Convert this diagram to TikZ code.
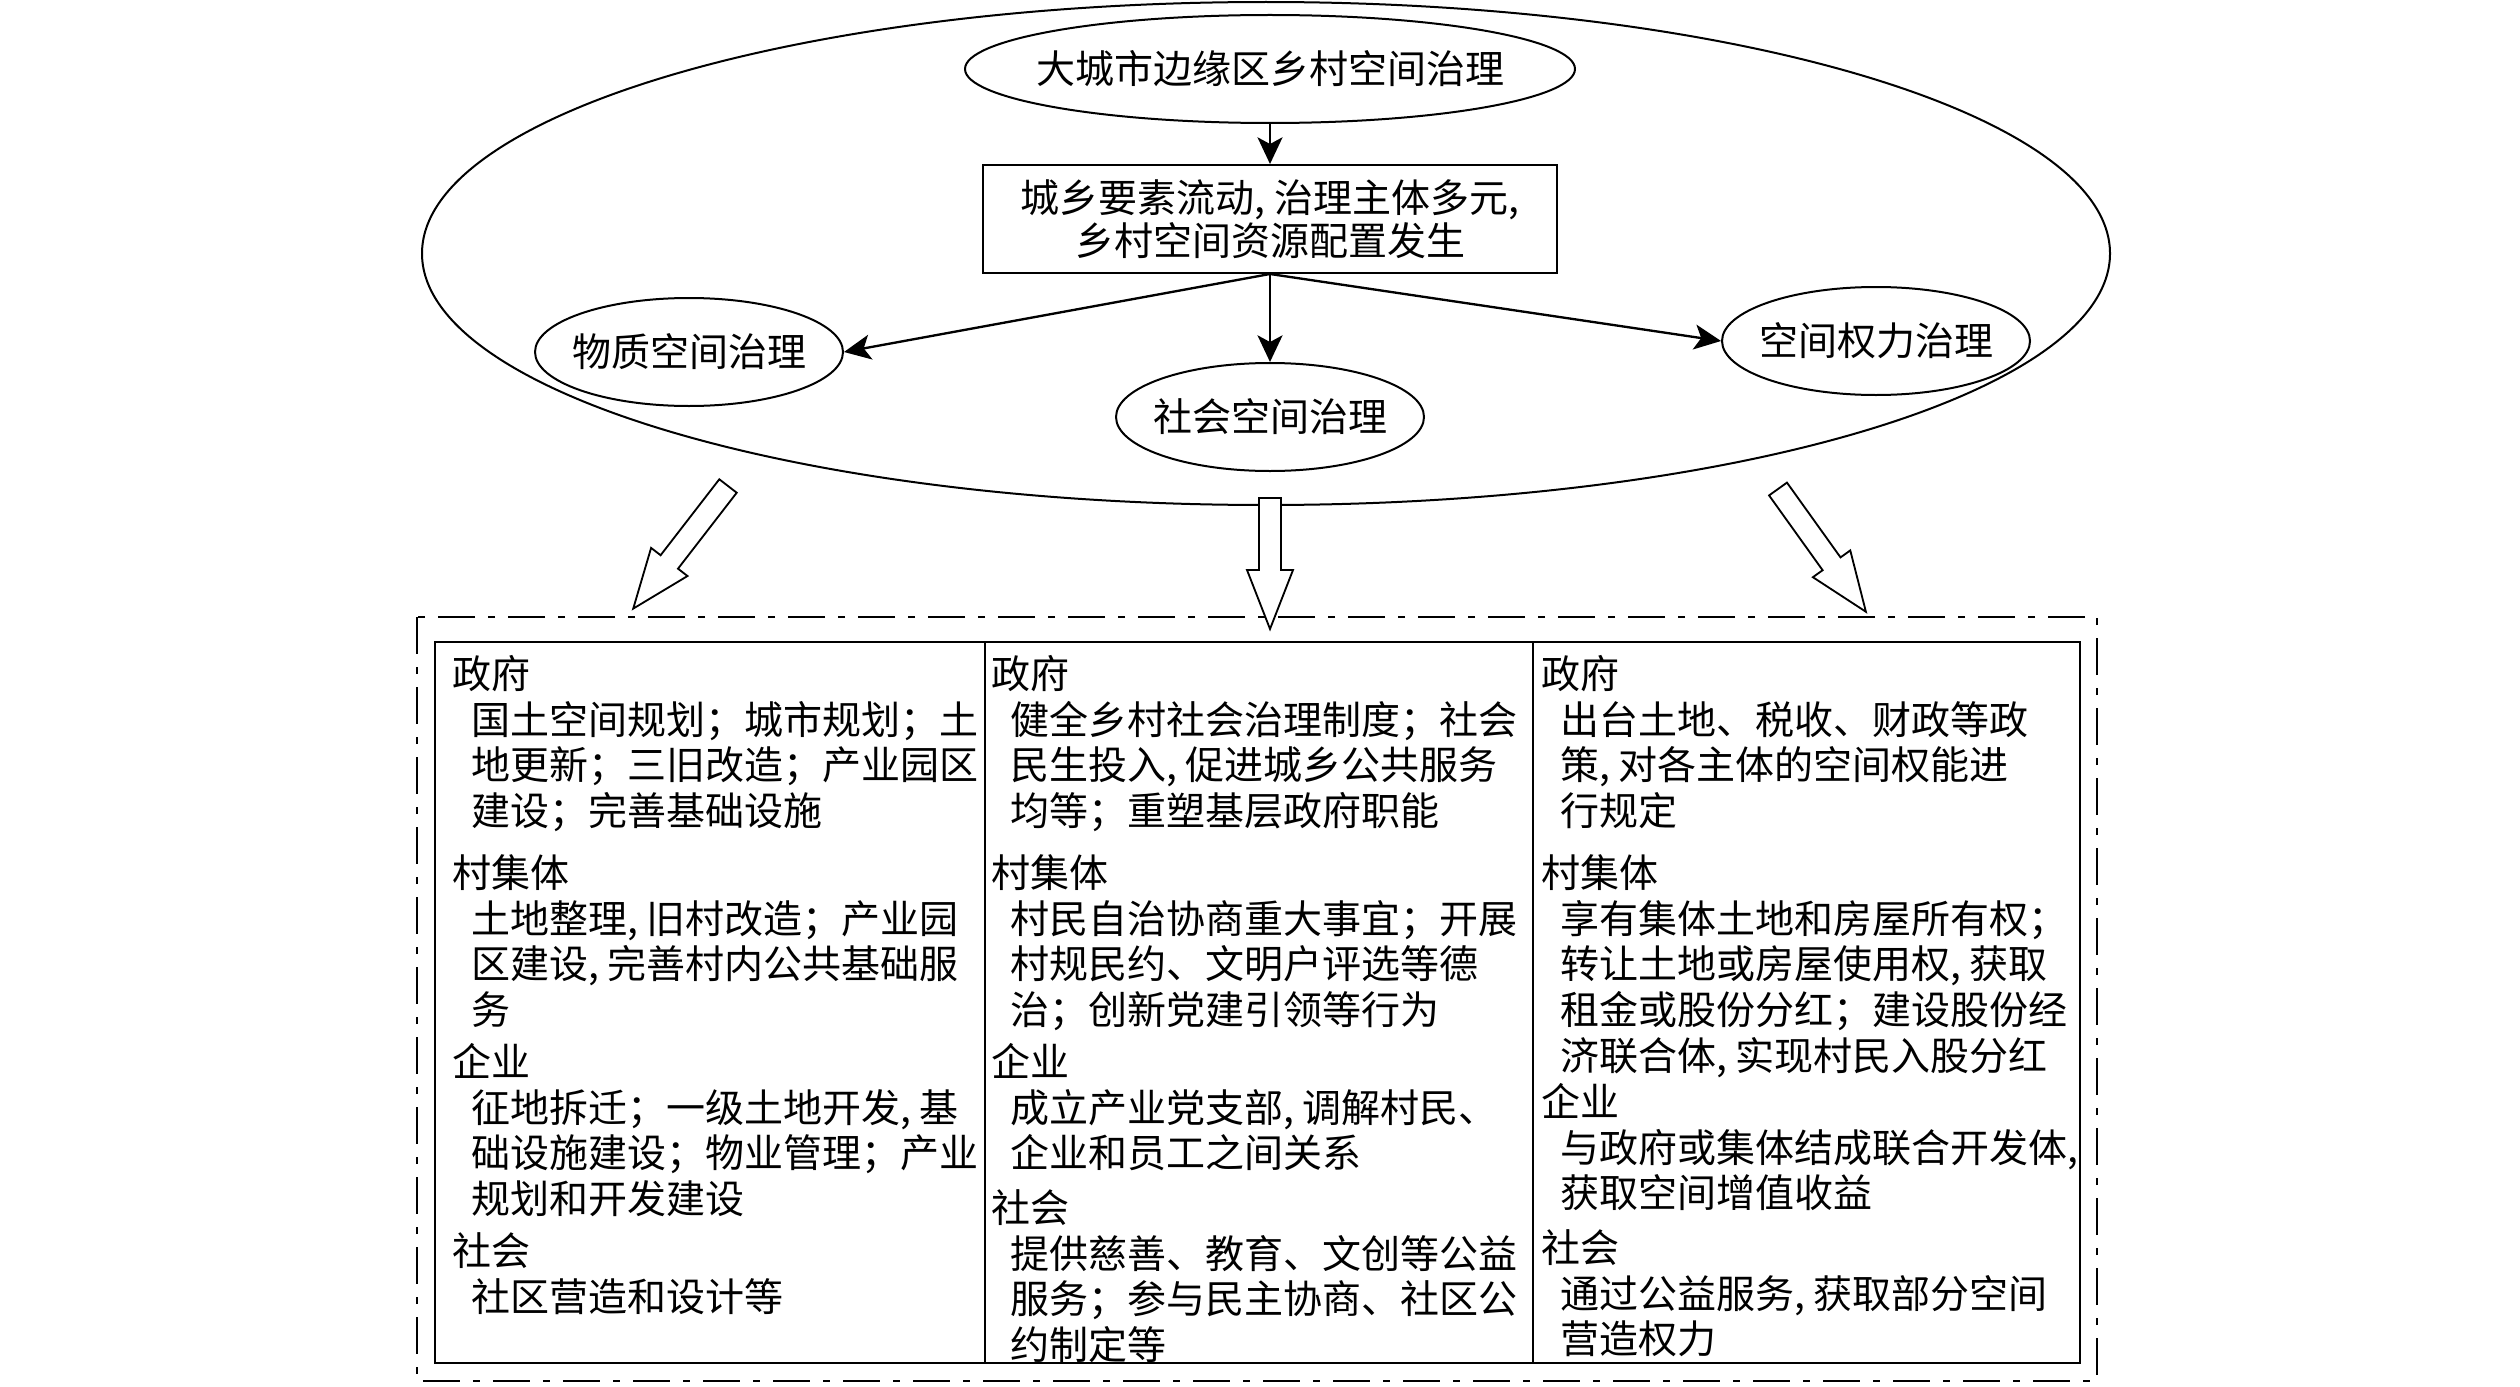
\documentclass[tikz,border=0pt]{standalone}
\usepackage{fontspec}
\setmainfont{Noto Sans CJK SC}
\usetikzlibrary{shapes.geometric,arrows.meta}

\newcommand{\cellhead}[1]{\rule{0pt}{11pt}#1}
\newcommand{\cellind}{\hspace*{5.5pt}}

\tikzset{
  line/.style={line width=0.6pt},
  arrow/.style={line width=0.7pt,-{Stealth[length=8pt,width=7.5pt,inset=2pt]}},
  hollow/.style={line width=0.55pt,fill=white,line join=miter},
  dashdot/.style={line width=0.6pt,dash pattern=on 11pt off 4pt on 2pt off 4pt},
  tbl/.style={line width=0.8pt},
  oval/.style={ellipse,draw,line,minimum width=92.4pt,minimum height=32.4pt,inner xsep=-4pt},
  cell/.style={anchor=north west,align=left,inner sep=0pt,font=\fontsize{11.7pt}{13.7pt}\selectfont},
  pics/fatarrow/.style={code={
    \draw[hollow] (0,-11) -- (#1-59,-11) -- (#1-59,-23) -- (#1,0) -- (#1-59,23) -- (#1-59,11) -- (0,11) -- cycle;
  }}
}

\begin{document}
\begin{tikzpicture}[x=0.3pt,y=-0.3pt,every node/.style={font=\fontsize{11.7pt}{13pt}\selectfont}]
  \useasboundingbox (0,0) rectangle (2520,1386);

  % upper part
  \node[ellipse,draw,line,minimum width=506.4pt,minimum height=150.9pt] (outer) at (1266,253.5) {};
  \node[ellipse,draw,line,minimum width=183pt,minimum height=32.4pt,inner xsep=-8pt] (top) at (1270,69) {大城市边缘区乡村空间治理};
  \node[draw,line,minimum width=172.2pt,minimum height=32.4pt,align=center] (flow) at (1270,219) {城乡要素流动, 治理主体多元,\\乡村空间资源配置发生};
  \node[oval] (wz) at (689,352) {物质空间治理};
  \node[oval] (sh) at (1270,417) {社会空间治理};
  \node[oval] (ql) at (1876,341) {空间权力治理};

  \draw[arrow] (top) -- (flow);
  \draw[arrow] (flow.south) -- (wz.east);
  \draw[arrow] (flow.south) -- (sh);
  \draw[arrow] (flow.south) -- (ql.west);

  % hollow arrows
  \coordinate (tl) at (728,486);
  \coordinate (tm) at (1270,498);
  \coordinate (tr) at (1778,489);
  \pic[rotate=-127.7] at (tl) {fatarrow=155};
  \pic[rotate=-90] at (tm) {fatarrow=131};
  \pic[rotate=-54.4] at (tr) {fatarrow=151};

  % lower part
  \draw[dashdot] (417,617) rectangle (2097,1381);
  \draw[tbl] (435,642) rectangle (2080,1363);
  \foreach \x in {985,1533}
    \draw[tbl] (\x,642) -- (\x,1363);

  \node[cell] (gov1) at (452,651) {\cellhead{政府}\\
    \cellind 国土空间规划；城市规划；土\\
    \cellind 地更新；三旧改造；产业园区\\
    \cellind 建设；完善基础设施};
  \node[cell] (vil1) at (452,850) {\cellhead{村集体}\\
    \cellind 土地整理, 旧村改造；产业园\\
    \cellind 区建设, 完善村内公共基础服\\
    \cellind 务};
  \node[cell] (ent1) at (452,1039) {\cellhead{企业}\\
    \cellind 征地拆迁；一级土地开发, 基\\
    \cellind 础设施建设；物业管理；产业\\
    \cellind 规划和开发建设};
  \node[cell] (soc1) at (452,1228) {\cellhead{社会}\\
    \cellind 社区营造和设计等};

  \node[cell] (gov2) at (991,651) {\cellhead{政府}\\
    \cellind 健全乡村社会治理制度；社会\\
    \cellind 民生投入, 促进城乡公共服务\\
    \cellind 均等；重塑基层政府职能};
  \node[cell] (vil2) at (991,850) {\cellhead{村集体}\\
    \cellind 村民自治协商重大事宜；开展\\
    \cellind 村规民约、文明户评选等德\\
    \cellind 治；创新党建引领等行为};
  \node[cell] (ent2) at (991,1039) {\cellhead{企业}\\
    \cellind 成立产业党支部, 调解村民、\\
    \cellind 企业和员工之间关系};
  \node[cell] (soc2) at (991,1185) {\cellhead{社会}\\
    \cellind 提供慈善、教育、文创等公益\\
    \cellind 服务；参与民主协商、社区公\\
    \cellind 约制定等};

  \node[cell] (gov3) at (1541,651) {\cellhead{政府}\\
    \cellind 出台土地、税收、财政等政\\
    \cellind 策, 对各主体的空间权能进\\
    \cellind 行规定};
  \node[cell] (vil3) at (1541,850) {\cellhead{村集体}\\
    \cellind 享有集体土地和房屋所有权；\\
    \cellind 转让土地或房屋使用权, 获取\\
    \cellind 租金或股份分红；建设股份经\\
    \cellind 济联合体, 实现村民入股分红};
  \node[cell] (ent3) at (1541,1079) {\cellhead{企业}\\
    \cellind 与政府或集体结成联合开发体,\\
    \cellind 获取空间增值收益};
  \node[cell] (soc3) at (1541,1225) {\cellhead{社会}\\
    \cellind 通过公益服务, 获取部分空间\\
    \cellind 营造权力};
\end{tikzpicture}
\end{document}
